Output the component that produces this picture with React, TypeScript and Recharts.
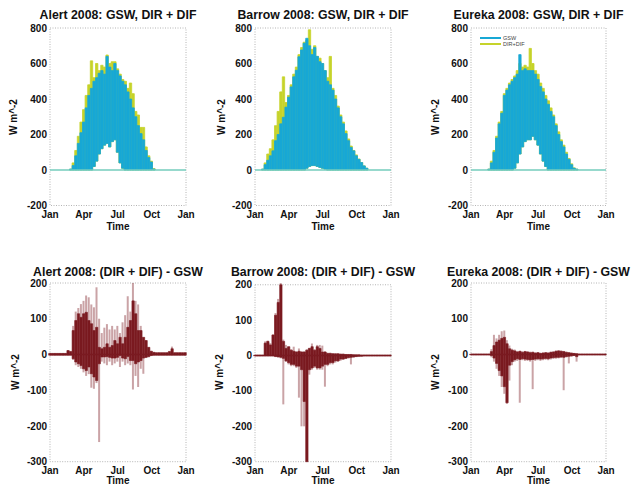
import React from 'react';
import { ComposedChart, Bar, XAxis, YAxis, ReferenceLine, ReferenceArea } from 'recharts';

// weekly samples, day of year
const days = [0, 7, 14, 21, 28, 35, 42, 49, 56, 63, 70, 77, 84, 91, 98, 105, 112, 119, 126, 133, 140, 147, 154, 161, 168, 175, 182, 189, 196, 203, 210, 217, 224, 231, 238, 245, 252, 259, 266, 273, 280, 287, 294, 301, 308, 315, 322, 329, 336, 343, 350, 357, 364];
const monthTicks = [0, 91, 182, 274, 366];
const monthLabels = ['Jan', 'Apr', 'Jul', 'Oct', 'Jan'];
const fluxTicks = [-200, 0, 200, 400, 600, 800];
const diffTicks = [-300, -200, -100, 0, 100, 200];
const seriesNames = ['GSW', 'DIR+DIF'];

// ---- top row: weekly max of GSW and DIR+DIF, weekly min (W m^-2)
const alertGswHi = [0, 0, 0, 0, 0, 0, 0, 0, 5, 25, 80, 150, 210, 270, 350, 420, 460, 500, 520, 545, 560, 540, 640, 580, 560, 600, 560, 530, 500, 480, 440, 400, 350, 300, 250, 205, 170, 110, 70, 45, 5, 0, 0, 0, 0, 0, 0, 0, 0, 0, 0, 0, 0];
const alertDdHi = [0, 0, 0, 0, 0, 0, 0, 0, 5, 40, 110, 190, 270, 340, 420, 480, 615, 520, 600, 560, 590, 580, 648, 600, 610, 610, 570, 540, 510, 500, 460, 490, 430, 330, 310, 240, 240, 130, 80, 50, 8, 0, 0, 0, 0, 0, 0, 0, 0, 0, 0, 0, 0];
const alertLo = [0, 0, 0, 0, 0, 0, 0, 0, 0, 0, 0, 0, 0, 0, 0, 0, 0, 20, 50, 90, 120, 140, 150, 130, 160, 170, 100, 40, 10, 0, 0, 0, 0, 0, 0, 0, 0, 0, 0, 0, 0, 0, 0, 0, 0, 0, 0, 0, 0, 0, 0, 0, 0];

const barrowGswHi = [0, 0, 0, 5, 30, 55, 80, 108, 165, 200, 260, 297, 354, 410, 468, 525, 562, 638, 676, 714, 742, 700, 650, 690, 640, 610, 600, 560, 500, 480, 450, 400, 350, 300, 260, 205, 165, 127, 108, 80, 60, 42, 23, 10, 0, 0, 0, 0, 0, 0, 0, 0, 0];
const barrowDdHi = [0, 0, 0, 5, 40, 90, 120, 170, 250, 330, 440, 525, 380, 420, 480, 540, 580, 650, 690, 720, 730, 790, 680, 700, 640, 630, 600, 560, 520, 640, 460, 420, 360, 310, 270, 220, 175, 135, 110, 85, 62, 42, 23, 10, 0, 0, 0, 0, 0, 0, 0, 0, 0];
const barrowLo = [0, 0, 0, 0, 0, 0, 0, 0, 0, 0, 0, 0, 0, 0, 0, 0, 0, 0, 0, 0, 10, 20, 25, 25, 20, 15, 10, 5, 0, 0, 0, 0, 0, 0, 0, 0, 0, 0, 0, 0, 0, 0, 0, 0, 0, 0, 0, 0, 0, 0, 0, 0, 0];

const eurekaGswHi = [0, 0, 0, 0, 0, 0, 0, 5, 40, 100, 180, 260, 320, 420, 450, 480, 500, 520, 540, 650, 560, 570, 560, 560, 560, 540, 510, 470, 440, 400, 370, 330, 300, 250, 200, 160, 130, 90, 60, 30, 10, 5, 0, 0, 0, 0, 0, 0, 0, 0, 0, 0, 0];
const eurekaDdHi = [0, 0, 0, 0, 0, 0, 0, 5, 50, 110, 190, 270, 330, 430, 460, 490, 510, 530, 560, 600, 580, 590, 580, 685, 600, 560, 540, 490, 460, 420, 390, 350, 310, 260, 215, 170, 140, 100, 65, 35, 12, 5, 0, 0, 0, 0, 0, 0, 0, 0, 0, 0, 0];
const eurekaLo = [0, 0, 0, 0, 0, 0, 0, 0, 0, 0, 0, 0, 0, 0, 0, 0, 0, 10, 40, 90, 130, 160, 170, 170, 190, 170, 140, 90, 50, 20, 0, 0, 0, 0, 0, 0, 0, 0, 0, 0, 0, 0, 0, 0, 0, 0, 0, 0, 0, 0, 0, 0, 0];

// ---- bottom row: (DIR + DIF) - GSW, dense core range and outlying spikes
const alertCoreHi = [3, 3, 3, 3, 3, 3, 3, 11, 8, 67, 95, 114, 104, 114, 118, 95, 86, 67, 76, 20, 16, 20, 30, 20, 25, 39, 30, 48, 30, 48, 76, 95, 150, 114, 67, 67, 48, 39, 20, 9, 6, 5, 5, 5, 5, 5, 8, 16, 5, 5, 5, 5, 5];
const alertCoreLo = [-2, -2, -2, -2, -2, -2, -2, -2, -2, -12, -21, -26, -31, -40, -45, -35, -54, -63, -73, -26, -7, -7, -6, -8, -10, -10, -8, -3, -10, -12, -6, -17, -17, -26, -21, -17, -10, -8, -6, -3, -2, -2, -2, -2, -2, -2, -2, -2, -2, -2, -2, -2, -2];
const alertSpikeHi = [3, 3, 3, 3, 3, 3, 3, 12, 10, 80, 120, 130, 141, 150, 165, 160, 140, 132, 188, 100, 60, 75, 85, 70, 80, 70, 80, 60, 90, 110, 163, 120, 200, 150, 140, 80, 48, 40, 20, 10, 6, 5, 5, 5, 5, 5, 10, 22, 5, 5, 5, 5, 5];
const alertSpikeLo = [-2, -2, -2, -2, -2, -2, -2, -2, -2, -15, -30, -35, -40, -50, -60, -55, -93, -96, -80, -245, -20, -25, -30, -20, -30, -25, -20, -35, -20, -30, -25, -30, -98, -60, -91, -40, -54, -10, -8, -4, -2, -2, -2, -2, -2, -2, -2, -2, -2, -2, -2, -2, -2];

const barrowCoreHi = [1, 1, 1, 1, 35, 40, 30, 58, 114, 150, 200, 40, 20, 25, 15, 12, 10, 12, 10, 10, 15, 20, 25, 15, 25, 20, 10, 10, 6, 6, 5, 5, 5, 4, 4, 3, 3, 3, 2, 2, 2, 1, 1, 1, 1, 1, 1, 1, 1, 1, 1, 1, 1];
const barrowCoreLo = [-1, -1, -1, -1, -1, -1, -1, -1, -3, -4, -5, -8, -15, -20, -25, -25, -30, -30, -40, -130, -300, -40, -35, -30, -35, -35, -30, -25, -25, -20, -20, -15, -15, -10, -10, -8, -6, -5, -4, -3, -2, -2, -1, -1, -1, -1, -1, -1, -1, -1, -1, -1, -1];
const barrowSpikeHi = [1, 1, 1, 1, 40, 42, 35, 60, 120, 160, 205, 45, 30, 25, 18, 25, 12, 20, 12, 12, 18, 22, 34, 18, 30, 30, 28, 12, 8, 8, 7, 6, 6, 5, 5, 4, 4, 3, 3, 2, 2, 1, 1, 1, 1, 1, 1, 1, 1, 1, 1, 1, 1];
const barrowSpikeLo = [-1, -1, -1, -1, -1, -1, -1, -1, -4, -5, -8, -138, -18, -25, -30, -30, -35, -119, -200, -200, -300, -54, -40, -35, -40, -40, -40, -88, -30, -25, -25, -20, -18, -15, -12, -10, -8, -25, -6, -4, -3, -2, -1, -1, -1, -1, -1, -1, -1, -1, -1, -1, -1];

const eurekaCoreHi = [1, 1, 1, 1, 1, 1, 1, 1, 8, 25, 35, 40, 45, 48, 30, 16, 12, 10, 7, 9, 6, 8, 7, 5, 6, 4, 5, 3, 4, 5, 4, 6, 7, 9, 10, 9, 8, 6, 5, 4, 3, 2, 1, 1, 1, 1, 1, 1, 1, 1, 1, 1, 1];
const eurekaCoreLo = [-1, -1, -1, -1, -1, -1, -1, -1, -3, -10, -25, -45, -60, -90, -135, -30, -20, -15, -12, -14, -12, -13, -14, -15, -14, -13, -12, -13, -12, -11, -12, -10, -9, -8, -8, -7, -8, -6, -5, -4, -3, -6, -1, -1, -1, -1, -1, -1, -1, -1, -1, -1, -1];
const eurekaSpikeHi = [1, 1, 1, 1, 1, 1, 1, 1, 15, 55, 45, 55, 65, 67, 40, 25, 16, 14, 10, 10, 9, 10, 9, 8, 8, 6, 7, 5, 6, 7, 6, 8, 9, 11, 12, 11, 10, 8, 6, 5, 4, 3, 1, 1, 1, 1, 1, 1, 1, 1, 1, 1, 1];
const eurekaSpikeLo = [-1, -1, -1, -1, -1, -1, -1, -1, -8, -20, -40, -60, -91, -110, -138, -73, -30, -20, -18, -135, -16, -18, -18, -20, -97, -18, -16, -18, -16, -15, -16, -14, -12, -12, -11, -10, -100, -8, -25, -6, -4, -20, -1, -1, -1, -1, -1, -1, -1, -1, -1, -1, -1];

const FONT = '"Liberation Sans", Arial, Helvetica, sans-serif';
const CYAN = '#18a8d5';
const YELLOW = '#c6d32a';
const ZERO_TEAL = '#74cdbd';
const MAROON = '#7a1a20';
const FRAME = '#b4b4b4';

const tickStyle = { fontSize: 10, fontWeight: 'bold', fill: '#111', fontFamily: FONT };
const monthName = (v: number) => monthLabels[monthTicks.indexOf(v)] ?? '';

interface FluxProps {
  col: number; plotLeft: number; plotRight: number; yLabelX: number; title: string;
  lo: number[]; gswHi: number[]; ddHi: number[]; legend?: boolean;
}

interface DiffProps {
  col: number; plotLeft: number; plotRight: number; yLabelX: number; title: string;
  coreLo: number[]; coreHi: number[]; spikeLo: number[]; spikeHi: number[];
}

const PanelText = ({ plotLeft, plotRight, plotTop, plotBottom, titleY, timeY, yLabelX, title }: any) => {
  const cx = (plotLeft + plotRight) / 2;
  const cy = (plotTop + plotBottom) / 2;
  return (
    <>
      <div style={{ position: 'absolute', left: cx, top: titleY - 6, transform: 'translateX(-50%)', fontSize: 12.3, fontWeight: 'bold', color: '#111', whiteSpace: 'nowrap', lineHeight: '12px' }}>{title}</div>
      <div style={{ position: 'absolute', left: yLabelX, top: cy, transform: 'translate(-50%, -50%) rotate(-90deg)', fontSize: 10, fontWeight: 'bold', color: '#111', whiteSpace: 'nowrap' }}>W m^-2</div>
      <div style={{ position: 'absolute', left: cx, top: timeY - 6, transform: 'translateX(-50%)', fontSize: 10, fontWeight: 'bold', color: '#111', lineHeight: '12px' }}>Time</div>
    </>
  );
};

const FluxPanel = ({ col, plotLeft, plotRight, yLabelX, title, lo, gswHi, ddHi, legend }: FluxProps) => {
  const data = days.map((day, i) => ({ day, gsw: [lo[i], gswHi[i]], dd: [lo[i], ddHi[i]] }));
  const plotTop = 28;
  const plotBottom = 205.5;
  return (
    <div style={{ position: 'absolute', left: col * 211, top: 0, width: 211, height: 240 }}>
      <PanelText plotLeft={plotLeft} plotRight={plotRight} plotTop={plotTop} plotBottom={plotBottom} titleY={15} timeY={227} yLabelX={yLabelX} title={title} />
      <div style={{ position: 'absolute', left: 0, top: 0 }}>
        <ComposedChart width={211} height={230} data={data} margin={{ top: plotTop, right: 211 - plotRight, bottom: 230 - plotBottom - 14, left: plotLeft - 30 }}>
          <XAxis dataKey="day" type="number" domain={[0, 366]} ticks={monthTicks} tickFormatter={monthName} interval={0} height={14} tickLine={false} axisLine={false} tickSize={3} tickMargin={2} tick={tickStyle} />
          <XAxis xAxisId="over" dataKey="day" type="number" domain={[0, 366]} hide />
          <YAxis type="number" domain={[-200, 800]} ticks={fluxTicks} interval={0} width={30} tickLine={false} axisLine={false} tickSize={2} tickMargin={1} tick={tickStyle} />
          <ReferenceArea x1={0} x2={366} y1={-200} y2={800} fill="none" stroke={FRAME} strokeDasharray="1 1.5" />
          <ReferenceLine y={0} stroke={ZERO_TEAL} strokeWidth={1.5} />
          <Bar dataKey="dd" name={seriesNames[1]} fill={YELLOW} stroke={YELLOW} strokeWidth={0.8} barSize={3} isAnimationActive={false} />
          <Bar dataKey="gsw" xAxisId="over" name={seriesNames[0]} fill={CYAN} stroke={CYAN} strokeWidth={0.8} barSize={3} isAnimationActive={false} />
        </ComposedChart>
      </div>
      {legend && (
        <div style={{ position: 'absolute', left: plotLeft + 9, top: 35, fontSize: 5.5, color: '#444', lineHeight: '6px' }}>
          {[CYAN, YELLOW].map((c, i) => (
            <div key={i} style={{ display: 'flex', alignItems: 'center', height: 6 }}>
              <div style={{ width: 21, height: 1.5, background: c, marginRight: 2 }} />
              <span>{seriesNames[i]}</span>
            </div>
          ))}
        </div>
      )}
    </div>
  );
};

const DiffPanel = ({ col, plotLeft, plotRight, yLabelX, title, coreLo, coreHi, spikeLo, spikeHi }: DiffProps) => {
  const data = days.map((day, i) => ({ day, spike: [spikeLo[i], spikeHi[i]], core: [coreLo[i], coreHi[i]] }));
  const plotTop = 43;
  const plotBottom = 221.7;
  return (
    <div style={{ position: 'absolute', left: col * 211, top: 240, width: 211, height: 247 }}>
      <PanelText plotLeft={plotLeft} plotRight={plotRight} plotTop={plotTop} plotBottom={plotBottom} titleY={31.5} timeY={241} yLabelX={yLabelX} title={title} />
      <div style={{ position: 'absolute', left: 0, top: 0 }}>
        <ComposedChart width={211} height={247} data={data} margin={{ top: plotTop, right: 211 - plotRight, bottom: 247 - plotBottom - 14, left: plotLeft - 30 }}>
          <XAxis dataKey="day" type="number" domain={[0, 366]} ticks={monthTicks} tickFormatter={monthName} interval={0} height={14} tickLine={false} axisLine={false} tickSize={3} tickMargin={2} tick={tickStyle} />
          <XAxis xAxisId="over" dataKey="day" type="number" domain={[0, 366]} hide />
          <YAxis type="number" domain={[-300, 200]} ticks={diffTicks} interval={0} width={30} tickLine={false} axisLine={false} tickSize={2} tickMargin={1} tick={tickStyle} />
          <ReferenceArea x1={0} x2={366} y1={-300} y2={200} fill="none" stroke={FRAME} strokeDasharray="1 1.5" />
          <ReferenceLine y={0} stroke={MAROON} strokeWidth={1.5} />
          <Bar dataKey="spike" fill={MAROON} fillOpacity={0.4} barSize={2} isAnimationActive={false} />
          <Bar dataKey="core" xAxisId="over" fill={MAROON} stroke={MAROON} strokeWidth={0.6} barSize={3} isAnimationActive={false} />
        </ComposedChart>
      </div>
    </div>
  );
};

export default function App() {
  return (
    <div style={{ position: 'absolute', left: 0, top: 0, width: 633, height: 487, background: '#fff', fontFamily: FONT, overflow: 'hidden' }}>
      <FluxPanel col={0} plotLeft={50} plotRight={186} yLabelX={13} title="Alert 2008: GSW, DIR + DIF" lo={alertLo} gswHi={alertGswHi} ddHi={alertDdHi} />
      <FluxPanel col={1} plotLeft={44} plotRight={180} yLabelX={10} title="Barrow 2008: GSW, DIR + DIF" lo={barrowLo} gswHi={barrowGswHi} ddHi={barrowDdHi} />
      <FluxPanel col={2} plotLeft={49} plotRight={184} yLabelX={13} title="Eureka 2008: GSW, DIR + DIF" lo={eurekaLo} gswHi={eurekaGswHi} ddHi={eurekaDdHi} legend />
      <DiffPanel col={0} plotLeft={50} plotRight={186} yLabelX={15} title="Alert 2008: (DIR + DIF) - GSW" coreLo={alertCoreLo} coreHi={alertCoreHi} spikeLo={alertSpikeLo} spikeHi={alertSpikeHi} />
      <DiffPanel col={1} plotLeft={44} plotRight={180} yLabelX={8} title="Barrow 2008: (DIR + DIF) - GSW" coreLo={barrowCoreLo} coreHi={barrowCoreHi} spikeLo={barrowSpikeLo} spikeHi={barrowSpikeHi} />
      <DiffPanel col={2} plotLeft={49} plotRight={184} yLabelX={13} title="Eureka 2008: (DIR + DIF) - GSW" coreLo={eurekaCoreLo} coreHi={eurekaCoreHi} spikeLo={eurekaSpikeLo} spikeHi={eurekaSpikeHi} />
    </div>
  );
}
